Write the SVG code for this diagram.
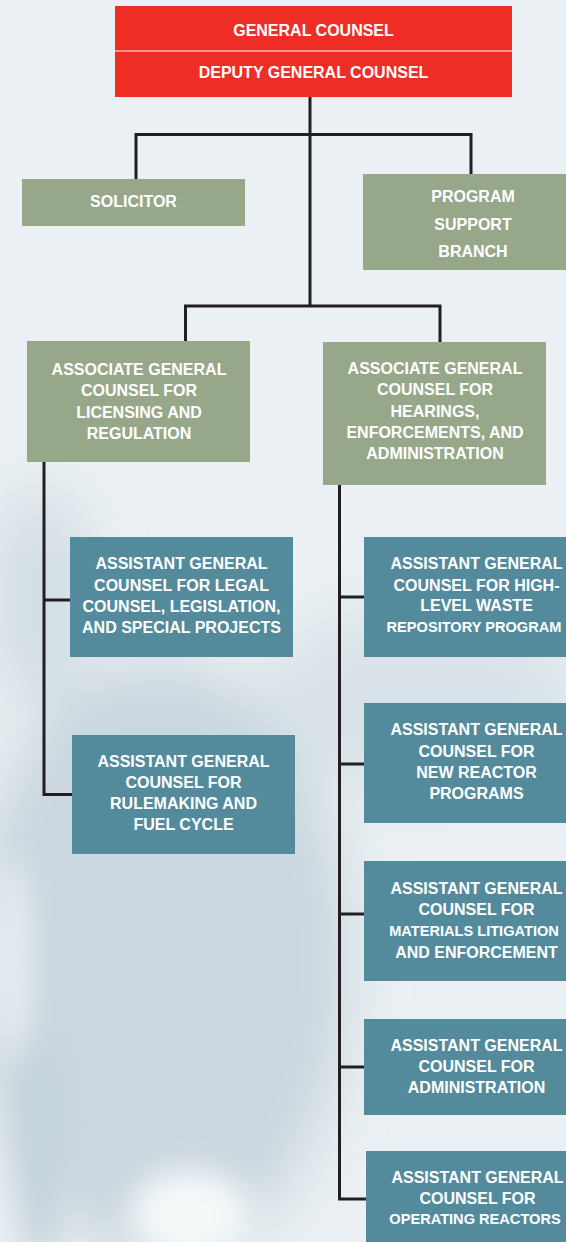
<svg xmlns="http://www.w3.org/2000/svg" width="566" height="1242" viewBox="0 0 566 1242">
  <defs>
    <filter id="blur" x="-50%" y="-50%" width="200%" height="200%">
      <feGaussianBlur stdDeviation="28"/>
    </filter>
    <filter id="blur2" x="-50%" y="-50%" width="200%" height="200%">
      <feGaussianBlur stdDeviation="16"/>
    </filter>
    <style>
      .t { font-family: "Liberation Sans", Arial, sans-serif; font-weight: bold; font-size: 16px; fill: #ffffff; text-anchor: middle; }
      .fit { font-size: 14.6px; }
      .red { fill: #EE2E24; }
      .green { fill: #97A88A; }
      .teal { fill: #548B9C; }
      .conn { fill: none; stroke: #231F20; stroke-width: 3; stroke-linejoin: miter; }
    </style>
  </defs>

  <g id="background">
    <rect x="0" y="0" width="566" height="1242" fill="#EAF0F3"/>
    <g filter="url(#blur)">
      <ellipse cx="160" cy="960" rx="190" ry="300" fill="#CAD7DF"/>
      <ellipse cx="420" cy="700" rx="160" ry="90" fill="#D8E2E8"/>
      <ellipse cx="40" cy="600" rx="50" ry="110" fill="#D2DDE4"/>
    </g>
    <g filter="url(#blur2)">
      <ellipse cx="40" cy="1150" rx="22" ry="120" fill="#C3D1DA"/>
      <ellipse cx="12" cy="960" rx="16" ry="100" fill="#EEF3F6"/>
      <ellipse cx="190" cy="1215" rx="60" ry="45" fill="#F6F9FA"/>
    </g>
  </g>

  <g id="connectors" class="conn">
    <path d="M310 97 V306"/>
    <path d="M136 179 V134.5 H471 V174"/>
    <path d="M185.5 341 V306 H440 V342"/>
    <path d="M44 462 V794.5 H72"/>
    <path d="M44 600 H70"/>
    <path d="M339.5 485 V1199 H366"/>
    <path d="M339.5 597 H364"/>
    <path d="M339.5 764 H364"/>
    <path d="M339.5 914 H364"/>
    <path d="M339.5 1067 H364"/>
  </g>

  <g id="general-counsel">
    <rect class="red" x="115" y="6" width="397" height="91"/>
    <line x1="115" y1="51" x2="512" y2="51" stroke="#F6B7B2" stroke-width="1.5"/>
    <text class="t" x="313.5" y="36">GENERAL COUNSEL</text>
    <text class="t" x="313.5" y="77.5">DEPUTY GENERAL COUNSEL</text>
  </g>

  <g id="solicitor">
    <rect class="green" x="22" y="179" width="223" height="47"/>
    <text class="t" x="133.5" y="207">SOLICITOR</text>
  </g>

  <g id="program-support-branch">
    <rect class="green" x="363" y="174" width="210" height="96"/>
    <text class="t" x="473" y="202">PROGRAM</text>
    <text class="t" x="473" y="229.5">SUPPORT</text>
    <text class="t" x="473" y="256.5">BRANCH</text>
  </g>

  <g id="assoc-licensing">
    <rect class="green" x="27" y="341" width="223" height="121"/>
    <text class="t" x="139" y="375">ASSOCIATE GENERAL</text>
    <text class="t" x="139" y="396">COUNSEL FOR</text>
    <text class="t" x="139" y="417.5">LICENSING AND</text>
    <text class="t" x="139" y="438.5">REGULATION</text>
  </g>

  <g id="assoc-hearings">
    <rect class="green" x="323" y="342" width="223" height="143"/>
    <text class="t" x="435" y="374">ASSOCIATE GENERAL</text>
    <text class="t" x="435" y="395">COUNSEL FOR</text>
    <text class="t" x="435" y="416.5">HEARINGS,</text>
    <text class="t" x="435" y="437.5">ENFORCEMENTS, AND</text>
    <text class="t" x="435" y="458.5">ADMINISTRATION</text>
  </g>

  <g id="asst-legal">
    <rect class="teal" x="70" y="537" width="223" height="120"/>
    <text class="t" x="181.5" y="569">ASSISTANT GENERAL</text>
    <text class="t" x="181.5" y="590.5">COUNSEL FOR LEGAL</text>
    <text class="t" x="181.5" y="612">COUNSEL, LEGISLATION,</text>
    <text class="t" x="181.5" y="632.5">AND SPECIAL PROJECTS</text>
  </g>

  <g id="asst-rulemaking">
    <rect class="teal" x="72" y="735" width="223" height="119"/>
    <text class="t" x="183.5" y="766.5">ASSISTANT GENERAL</text>
    <text class="t" x="183.5" y="788">COUNSEL FOR</text>
    <text class="t" x="183.5" y="809">RULEMAKING AND</text>
    <text class="t" x="183.5" y="830">FUEL CYCLE</text>
  </g>

  <g id="asst-hlw">
    <rect class="teal" x="364" y="537" width="225" height="120"/>
    <text class="t" x="476.5" y="568.5">ASSISTANT GENERAL</text>
    <text class="t" x="476.5" y="590.5">COUNSEL FOR HIGH-</text>
    <text class="t" x="476.5" y="611">LEVEL WASTE</text>
    <text class="t fit" x="474" y="632">REPOSITORY PROGRAM</text>
  </g>

  <g id="asst-new-reactor">
    <rect class="teal" x="364" y="703" width="225" height="120"/>
    <text class="t" x="476.5" y="734.5">ASSISTANT GENERAL</text>
    <text class="t" x="476.5" y="756.5">COUNSEL FOR</text>
    <text class="t" x="476.5" y="777.5">NEW REACTOR</text>
    <text class="t" x="476.5" y="798.5">PROGRAMS</text>
  </g>

  <g id="asst-materials">
    <rect class="teal" x="364" y="861" width="225" height="120"/>
    <text class="t" x="476.5" y="894">ASSISTANT GENERAL</text>
    <text class="t" x="476.5" y="915">COUNSEL FOR</text>
    <text class="t fit" x="474" y="935.5">MATERIALS LITIGATION</text>
    <text class="t" x="476.5" y="957.5">AND ENFORCEMENT</text>
  </g>

  <g id="asst-admin">
    <rect class="teal" x="364" y="1019" width="225" height="96"/>
    <text class="t" x="476.5" y="1051">ASSISTANT GENERAL</text>
    <text class="t" x="476.5" y="1072">COUNSEL FOR</text>
    <text class="t" x="476.5" y="1093">ADMINISTRATION</text>
  </g>

  <g id="asst-operating">
    <rect class="teal" x="366" y="1151" width="225" height="100"/>
    <text class="t" x="477.5" y="1182.5">ASSISTANT GENERAL</text>
    <text class="t" x="477.5" y="1203.5">COUNSEL FOR</text>
    <text class="t fit" x="475" y="1223.5">OPERATING REACTORS</text>
  </g>
</svg>
